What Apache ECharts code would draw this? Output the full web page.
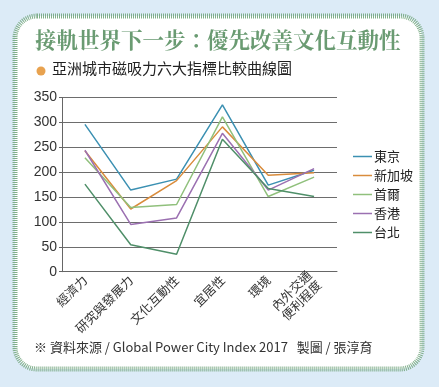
<!DOCTYPE html>
<html><head><meta charset="utf-8">
<script src="https://cdn.jsdelivr.net/npm/echarts@6/dist/echarts.min.js"></script>
<style>html,body{margin:0;padding:0;background:#dcebf7}#c{width:439px;height:387px}</style>
</head><body><div id="c"></div>
<script>
const categories = ['經濟力', '研究與發展力', '文化互動性', '宜居性', '環境', '內外交通\n便利程度'];
const yTicks = [0, 50, 100, 150, 200, 250, 300, 350];
const tokyo = [296, 164, 186, 335, 174, 204];
const singapore = [243, 126, 183, 291, 194, 199];
const seoul = [229, 129, 135, 311, 151, 190];
const hongkong = [244, 95, 108, 278, 164, 207];
const taipei = [176, 54, 35, 266, 167, 151];
const names = ['東京', '新加坡', '首爾', '香港', '台北'];
const colors = ['#3b90b2', '#d98c3c', '#90c07c', '#9b70b1', '#4f8f69'];
const seriesData = [tokyo, singapore, seoul, hongkong, taipei];

const cjk = '"Noto Sans CJK TC", "Noto Sans", sans-serif';
const chart = echarts.init(document.getElementById('c'));
chart.setOption({
  backgroundColor: '#dcebf7',
  animation: false,
  graphic: [
    { type: 'rect', shape: { x: 15, y: 16, width: 407, height: 353, r: 22 },
      style: { fill: '#ffffff', stroke: '#7fae8a', lineWidth: 5, lineDash: [1, 1] }, z: -10 },
    { type: 'text', left: 35, top: 29,
      style: { text: '接軌世界下一步：優先改善文化互動性', font: 'bold 21.5px "Noto Serif CJK TC", ' + cjk, fill: '#6a9b72' } },
    { type: 'circle', shape: { cx: 41, cy: 71, r: 4.5 }, style: { fill: '#e8a24f' } },
    { type: 'text', left: 52, top: 61,
      style: { text: '亞洲城市磁吸力六大指標比較曲線圖', font: '15px ' + cjk, fill: '#222' } },
    { type: 'text', left: 34, top: 341,
      style: { text: '※ 資料來源 / Global Power City Index 2017   製圖 / 張淳育', font: '13px ' + cjk, fill: '#333' } }
  ],
  legend: {
    orient: 'vertical', left: 353, top: 150, padding: 0,
    icon: 'rect', itemWidth: 19, itemHeight: 1.5, itemGap: 6,
    textStyle: { fontFamily: cjk, fontSize: 13, color: '#222', padding: [0, 0, 0, -3] },
    data: names
  },
  grid: { left: 62, right: 102, top: 97.5, bottom: 115.3 },
  xAxis: {
    type: 'category', data: categories, boundaryGap: true,
    axisLine: { lineStyle: { color: '#666', width: 1 } },
    axisTick: { inside: true, length: 5, lineStyle: { color: '#666' } },
    axisLabel: { rotate: 45, fontFamily: cjk, fontSize: 12.5, color: '#333', margin: 6, lineHeight: 14, interval: 0 }
  },
  yAxis: {
    type: 'value', min: 0, max: 350, interval: 50,
    axisLine: { show: true, lineStyle: { color: '#666', width: 1 } },
    axisTick: { show: true, length: 3, lineStyle: { color: '#666' } },
    axisLabel: { fontFamily: '"Liberation Sans", Arial, sans-serif', fontSize: 14, color: '#333', margin: 5,
      formatter: v => yTicks.includes(v) ? String(v) : '' },
    splitLine: { lineStyle: { color: '#6d6d6d', width: 1 } }
  },
  series: names.map((n, i) => ({
    name: n, type: 'line', data: seriesData[i], symbol: 'none',
    lineStyle: { color: colors[i], width: 1.5 }, itemStyle: { color: colors[i] }
  }))
});
</script></body></html>
